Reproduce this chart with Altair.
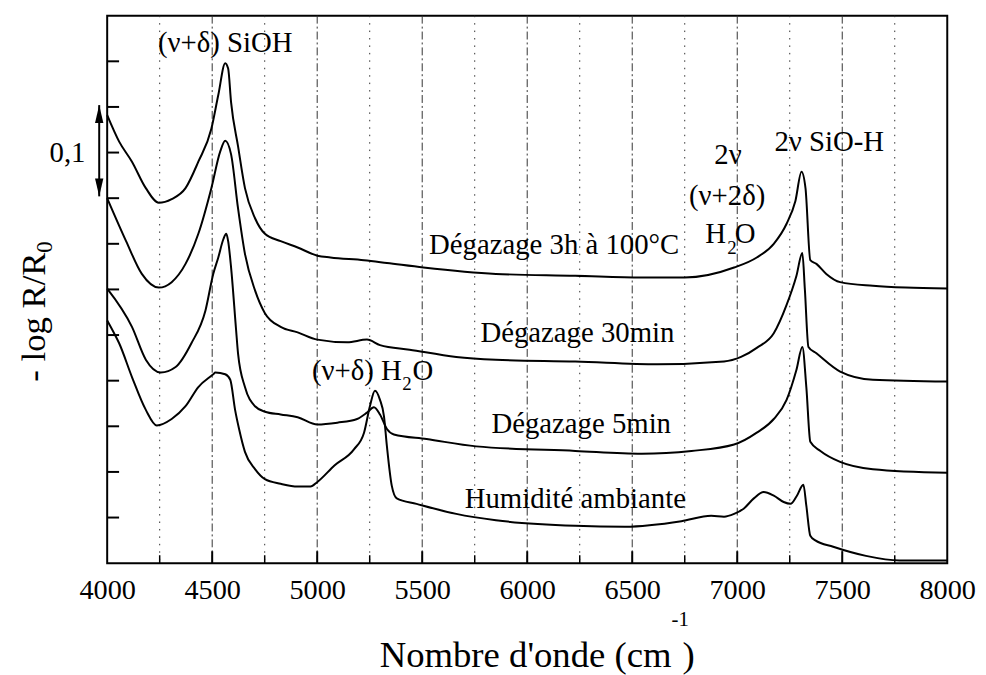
import altair as alt
import pandas as pd

# ---- spectra: wavenumber (cm-1) and offset -log R/R0 ----
deg3h_x = [4000, 4057, 4118, 4184, 4246, 4307, 4373, 4434, 4496, 4529, 4562, 4576, 4590, 4623, 4656,
           4704, 4751, 4826, 4907, 5001, 5063, 5223, 5332, 5506, 5851, 6229, 6546, 6749, 6985,
           7093, 7174, 7235, 7277, 7306, 7325, 7348, 7377, 7424, 7490, 7646, 7802, 8000]
deg3h_y = [0.491, 0.462, 0.440, 0.411, 0.395, 0.399, 0.411, 0.440, 0.476, 0.513, 0.548, 0.542, 0.505,
           0.457, 0.411, 0.378, 0.361, 0.353, 0.346, 0.337, 0.335, 0.332, 0.329, 0.324, 0.317,
           0.315, 0.313, 0.313, 0.324, 0.335, 0.350, 0.372, 0.397, 0.429, 0.411, 0.332, 0.328,
           0.317, 0.308, 0.304, 0.302, 0.301]

deg30_x = [4000, 4090, 4165, 4246, 4307, 4373, 4434, 4496, 4538, 4562, 4590, 4623, 4656, 4704, 4751,
           4826, 4907, 5001, 5143, 5237, 5299, 5440, 5662, 5851, 6229, 6621, 6937, 7018, 7093,
           7174, 7235, 7282, 7310, 7322, 7339, 7377, 7490, 7646, 8000]
deg30_y = [0.400, 0.353, 0.317, 0.302, 0.308, 0.328, 0.361, 0.411, 0.451, 0.463, 0.448, 0.389, 0.339,
           0.299, 0.274, 0.259, 0.253, 0.245, 0.242, 0.245, 0.239, 0.234, 0.226, 0.223, 0.221,
           0.218, 0.221, 0.226, 0.236, 0.252, 0.283, 0.315, 0.340, 0.300, 0.237, 0.230, 0.210,
           0.201, 0.199]

deg5_x = [4000, 4118, 4184, 4255, 4326, 4401, 4468, 4505, 4529, 4553, 4567, 4576, 4590, 4614, 4623,
          4656, 4704, 4751, 4826, 4907, 5001, 5096, 5190, 5237, 5270, 5299, 5332, 5365, 5521,
          5757, 6229, 6546, 6782, 6985, 7093, 7174, 7235, 7282, 7310, 7329, 7348, 7396, 7490,
          7646, 8000]
deg5_y = [0.301, 0.259, 0.223, 0.209, 0.215, 0.241, 0.277, 0.317, 0.335, 0.355, 0.361, 0.353, 0.324,
          0.255, 0.230, 0.193, 0.172, 0.166, 0.163, 0.160, 0.152, 0.154, 0.158, 0.165, 0.171,
          0.163, 0.147, 0.141, 0.136, 0.128, 0.123, 0.120, 0.123, 0.130, 0.143, 0.158, 0.179,
          0.212, 0.237, 0.193, 0.133, 0.123, 0.111, 0.103, 0.099]

humid_x = [4000, 4033, 4057, 4118, 4184, 4236, 4307, 4373, 4434, 4505, 4515, 4562, 4586, 4609, 4628,
           4656, 4704, 4751, 4826, 4907, 4968, 5001, 5082, 5176, 5223, 5251, 5275, 5299, 5318,
           5332, 5355, 5379, 5473, 5662, 5851, 6229, 6465, 6734, 6876, 6937, 6985, 7032, 7079,
           7126, 7174, 7221, 7254, 7282, 7315, 7329, 7348, 7372, 7457, 7613, 7773, 8000]
humid_y = [0.266, 0.252, 0.241, 0.204, 0.168, 0.151, 0.158, 0.172, 0.193, 0.207, 0.209, 0.207, 0.201,
           0.168, 0.147, 0.122, 0.103, 0.092, 0.087, 0.084, 0.084, 0.089, 0.107, 0.125, 0.143,
           0.172, 0.189, 0.179, 0.161, 0.128, 0.085, 0.071, 0.065, 0.054, 0.047, 0.041, 0.040,
           0.046, 0.052, 0.051, 0.054, 0.060, 0.071, 0.078, 0.074, 0.067, 0.065, 0.073, 0.086,
           0.063, 0.030, 0.025, 0.018, 0.008, 0.003, 0.003]

series_names = ["Dégazage 3h à 100°C", "Dégazage 30min", "Dégazage 5min", "Humidité ambiante"]

# ---- axes / grid ----
x_labels = [4000, 4500, 5000, 5500, 6000, 6500, 7000, 7500, 8000]
x_major = [4500, 5000, 5500, 6000, 6500, 7000, 7500]
x_minor = [4250, 4750, 5250, 5750, 6250, 6750, 7250, 7750]
y_ticks = [0.05, 0.10, 0.15, 0.20, 0.25, 0.30, 0.35, 0.40, 0.45, 0.50, 0.55]

# ---- annotations ----
ann_text = ["(ν+δ) SiOH", "Dégazage 3h à 100°C", "Dégazage 30min", "Dégazage 5min",
            "Humidité ambiante", "2ν SiO-H", "2ν", "(ν+2δ)", "0,1"]
ann_x = [4562, 6128, 6239, 6257, 6229, 7438, 6956, 6952, 3811]
ann_y = [0.560, 0.339, 0.242, 0.143, 0.060, 0.452, 0.437, 0.393, 0.440]

h2o_main_text = ["(ν+δ) H", "H"]
h2o_main_x = [5403, 6947]
h2o_main_y = [0.201, 0.351]
h2o_sub_text = ["2", "2"]
h2o_sub_x = [5405, 6952]
h2o_sub_y = [0.190, 0.339]
h2o_end_text = ["O", "O"]
h2o_end_x = [5454, 6988]
h2o_end_y = [0.201, 0.351]

bar_x = [3962]
bar_lo = [0.402]
bar_hi = [0.502]

FONT = "Times New Roman, Liberation Serif, DejaVu Serif, serif"
W, H = 847, 552

rows = []
for name, xs_, ys_ in zip(series_names, [deg3h_x, deg30_x, deg5_x, humid_x],
                          [deg3h_y, deg30_y, deg5_y, humid_y]):
    for a, b in zip(xs_, ys_):
        rows.append({"serie": name, "wn": a, "a": b})
spec_df = pd.DataFrame(rows)

xs = alt.Scale(domain=[4000, 8000], nice=False, zero=False)
ys = alt.Scale(domain=[0, 0.6], nice=False, zero=False)
xaxis = alt.Axis(values=x_labels, format="d", title=None, grid=False, ticks=False,
                 tickSize=0, domain=False, labelFlush=False, labelOverlap=False,
                 labelPadding=12.5, labelFontSize=28.5, labelFont=FONT, labelColor="black")


def X(f):
    return alt.X(f, scale=xs, axis=xaxis)


def Y(f):
    return alt.Y(f, scale=ys, axis=None)


grid_major = alt.Chart(pd.DataFrame({"wn": x_major})).mark_rule(
    color="#333", strokeWidth=1, strokeDash=[8, 3, 2, 3]
).encode(x=X("wn:Q"))

grid_minor = alt.Chart(pd.DataFrame({"wn": x_minor})).mark_rule(
    color="#333", strokeWidth=1, strokeDash=[1.5, 6]
).encode(x=X("wn:Q"))

tick_major = alt.Chart(pd.DataFrame({"wn": x_major})).mark_rule(
    color="black", strokeWidth=2
).encode(x=X("wn:Q"), y=alt.value(H), y2=alt.value(H - 12))

tick_minor = alt.Chart(pd.DataFrame({"wn": x_minor})).mark_rule(
    color="black", strokeWidth=1.5
).encode(x=X("wn:Q"), y=alt.value(H), y2=alt.value(H - 8))

tick_y = alt.Chart(pd.DataFrame({"v": y_ticks})).mark_rule(
    color="black", strokeWidth=2
).encode(y=Y("v:Q"), x=alt.value(0), x2=alt.value(12))

lines = alt.Chart(spec_df).mark_line(color="black", strokeWidth=2, interpolate="monotone").encode(
    x=X("wn:Q"), y=Y("a:Q"), detail="serie:N", order="wn:Q"
)

ann = alt.Chart(pd.DataFrame({"t": ann_text, "x": ann_x, "y": ann_y})).mark_text(
    font=FONT, fontSize=29, color="black", align="center", baseline="alphabetic"
).encode(x=X("x:Q"), y=Y("y:Q"), text="t:N")

h2o_a = alt.Chart(pd.DataFrame({"t": h2o_main_text, "x": h2o_main_x, "y": h2o_main_y})).mark_text(
    font=FONT, fontSize=29, color="black", align="right", baseline="alphabetic"
).encode(x=X("x:Q"), y=Y("y:Q"), text="t:N")
h2o_b = alt.Chart(pd.DataFrame({"t": h2o_sub_text, "x": h2o_sub_x, "y": h2o_sub_y})).mark_text(
    font=FONT, fontSize=19, color="black", align="left", baseline="alphabetic"
).encode(x=X("x:Q"), y=Y("y:Q"), text="t:N")
h2o_c = alt.Chart(pd.DataFrame({"t": h2o_end_text, "x": h2o_end_x, "y": h2o_end_y})).mark_text(
    font=FONT, fontSize=29, color="black", align="left", baseline="alphabetic"
).encode(x=X("x:Q"), y=Y("y:Q"), text="t:N")

bar_df = pd.DataFrame({"x": bar_x, "lo": bar_lo, "hi": bar_hi})
bar = alt.Chart(bar_df).mark_rule(color="black", strokeWidth=2).encode(
    x=X("x:Q"), y=Y("lo:Q"), y2="hi:Q")
head_up = alt.Chart(bar_df).mark_point(
    shape="M0,0L0.7,3L-0.7,3Z", filled=True, size=144, color="black", opacity=1, strokeWidth=0
).encode(x=X("x:Q"), y=Y("hi:Q"))
head_dn = alt.Chart(bar_df).mark_point(
    shape="M0,0L0.7,-3L-0.7,-3Z", filled=True, size=144, color="black", opacity=1, strokeWidth=0
).encode(x=X("x:Q"), y=Y("lo:Q"))

# axis titles with super/subscripts
xt1 = alt.Chart(pd.DataFrame({"t": ["Nombre d'onde (cm"]})).mark_text(
    font=FONT, fontSize=37, color="black", align="right", baseline="alphabetic"
).encode(x=alt.value(569), y=alt.value(657), text="t:N")
xt2 = alt.Chart(pd.DataFrame({"t": ["-1"]})).mark_text(
    font=FONT, fontSize=21, color="black", align="left", baseline="alphabetic"
).encode(x=alt.value(569), y=alt.value(615), text="t:N")
xt3 = alt.Chart(pd.DataFrame({"t": [")"]})).mark_text(
    font=FONT, fontSize=37, color="black", align="left", baseline="alphabetic"
).encode(x=alt.value(580), y=alt.value(657), text="t:N")
yt1 = alt.Chart(pd.DataFrame({"t": ["- log R/R"]})).mark_text(
    font=FONT, fontSize=35, color="black", align="left", baseline="alphabetic", angle=270
).encode(x=alt.value(-63), y=alt.value(369), text="t:N")
yt2 = alt.Chart(pd.DataFrame({"t": ["0"]})).mark_text(
    font=FONT, fontSize=23, color="black", align="left", baseline="alphabetic", angle=270
).encode(x=alt.value(-56), y=alt.value(239), text="t:N")

chart = alt.layer(
    grid_major, grid_minor, tick_major, tick_minor, tick_y, lines,
    ann, h2o_a, h2o_b, h2o_c, bar, head_up, head_dn, xt1, xt2, xt3, yt1, yt2
).properties(
    width=W, height=H,
    padding={"left": 100, "top": 5, "right": 31, "bottom": 110},
    autosize=alt.AutoSizeParams(type="none"),
    background="white",
).configure_view(stroke="black", strokeWidth=2)

chart.save("out.html", embed_options={"renderer": "svg", "actions": False})
